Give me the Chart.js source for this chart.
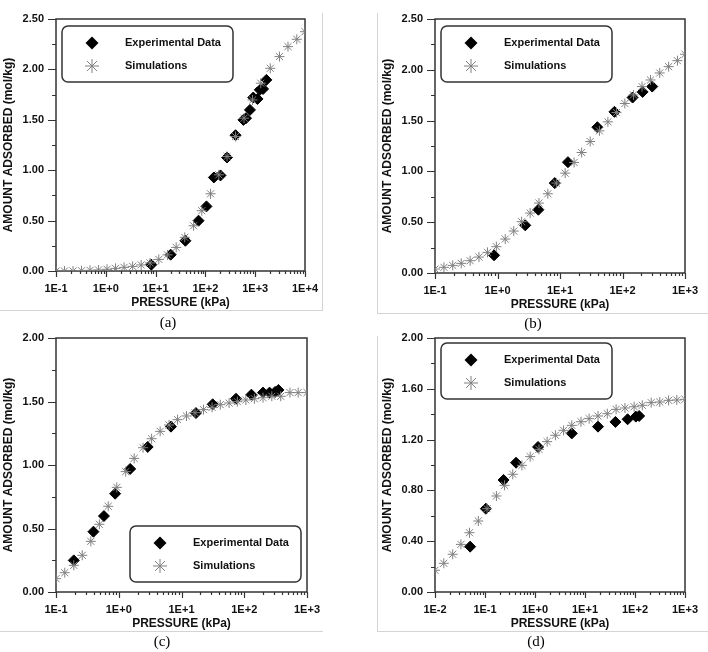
<!DOCTYPE html>
<html lang="en">
<head>
<meta charset="UTF-8">
<title>Adsorption isotherms</title>
<script src="https://cdnjs.cloudflare.com/ajax/libs/Chart.js/4.4.1/chart.umd.min.js"></script>
<style>
    body { margin: 0; background: #fff; }
    #page { position: relative; width: 708px; height: 652px; overflow: hidden; }
    #page canvas { position: absolute; }
    .cap { position: absolute; font-family: "Liberation Serif", "Times New Roman", serif; font-size: 15px; color: #000; transform: translate(-50%, -50%); }
    .rule { position: absolute; background: #d4d4d4; }
</style>
</head>
<body>
<div id="page">
    <canvas id="chartA" width="329" height="315" style="left:0;top:0"></canvas>
    <canvas id="chartB" width="330" height="317" style="left:379px;top:0"></canvas>
    <canvas id="chartC" width="331" height="317" style="left:0;top:319px"></canvas>
    <canvas id="chartD" width="330" height="317" style="left:379px;top:319px"></canvas>

    <div class="rule" style="left:322px;top:13px;width:1px;height:298px"></div>
    <div class="rule" style="left:0;top:310px;width:323px;height:1px"></div>
    <div class="rule" style="left:377px;top:13px;width:1px;height:300px"></div>
    <div class="rule" style="left:377px;top:313px;width:331px;height:1px"></div>
    <div class="rule" style="left:0;top:631px;width:323px;height:1px"></div>
    <div class="rule" style="left:377px;top:336px;width:1px;height:295px"></div>
    <div class="rule" style="left:377px;top:631px;width:331px;height:1px"></div>

    <div class="cap" style="left:168px;top:322px">(a)</div>
    <div class="cap" style="left:533px;top:323px">(b)</div>
    <div class="cap" style="left:162px;top:641px">(c)</div>
    <div class="cap" style="left:536px;top:641px">(d)</div>
</div>

<script>
    // (a)
    var simPressureA = [0.1, 0.148, 0.22, 0.326, 0.483, 0.716, 1.06, 1.57, 2.33, 3.46, 5.13, 7.73, 11.6, 17.3, 25.9, 38.5, 58.0, 84.6, 127, 186, 272, 403, 597, 885, 1294, 2009, 3069, 4550, 6850, 10000];
    var simAmountA = [0, 0, 0, 0.003, 0.007, 0.01, 0.017, 0.026, 0.036, 0.046, 0.06, 0.08, 0.115, 0.16, 0.234, 0.334, 0.449, 0.598, 0.766, 0.954, 1.136, 1.334, 1.516, 1.697, 1.863, 2.011, 2.127, 2.226, 2.299, 2.374];
    var expPressureA = [8.2, 20.1, 39.7, 72.8, 105, 148, 201, 272, 403, 579, 654, 785, 914, 1112, 1237, 1439, 1675];
    var expAmountA = [0.063, 0.162, 0.30, 0.499, 0.641, 0.928, 0.948, 1.126, 1.347, 1.499, 1.516, 1.598, 1.721, 1.707, 1.797, 1.806, 1.896];

    // (b)
    var simPressureB = [0.1, 0.139, 0.192, 0.263, 0.365, 0.505, 0.692, 0.959, 1.33, 1.82, 2.43, 3.33, 4.61, 6.39, 8.75, 12.1, 16.8, 22.2, 30.4, 42.7, 58.4, 80.0, 109, 150, 205, 281, 394, 547, 757, 1000];
    var simAmountB = [0.039, 0.056, 0.075, 0.095, 0.121, 0.157, 0.203, 0.259, 0.334, 0.413, 0.505, 0.59, 0.688, 0.78, 0.885, 0.983, 1.088, 1.186, 1.294, 1.399, 1.488, 1.579, 1.668, 1.753, 1.835, 1.90, 1.969, 2.031, 2.09, 2.153];
    var expPressureB = [0.881, 2.78, 4.51, 8.24, 13.4, 39.6, 74.3, 145, 210, 299];
    var expAmountB = [0.174, 0.469, 0.623, 0.885, 1.091, 1.435, 1.586, 1.727, 1.782, 1.835];

    // (c)
    var simPressureC = [0.1, 0.138, 0.192, 0.262, 0.359, 0.491, 0.679, 0.931, 1.29, 1.76, 2.44, 3.34, 4.57, 6.33, 8.65, 12.0, 16.4, 22.4, 30.7, 41.5, 57.4, 77.6, 106, 145, 199, 275, 381, 535, 723, 1000];
    var simAmountC = [0.105, 0.152, 0.21, 0.289, 0.399, 0.533, 0.675, 0.824, 0.948, 1.052, 1.136, 1.207, 1.265, 1.315, 1.357, 1.386, 1.412, 1.436, 1.454, 1.475, 1.488, 1.499, 1.512, 1.522, 1.530, 1.541, 1.541, 1.570, 1.570, 1.570];
    var expPressureC = [0.192, 0.395, 0.581, 0.875, 1.52, 2.89, 6.79, 17.0, 31.4, 73.9, 130, 199, 253, 310, 350];
    var expAmountC = [0.249, 0.475, 0.598, 0.774, 0.969, 1.142, 1.302, 1.409, 1.478, 1.522, 1.554, 1.570, 1.570, 1.575, 1.591];

    // (d)
    var simPressureD = [0.01, 0.015, 0.0226, 0.033, 0.0489, 0.0735, 0.110, 0.169, 0.246, 0.359, 0.548, 0.80, 1.2, 1.75, 2.56, 3.73, 5.44, 8.31, 12.1, 18.2, 27.9, 41.9, 63.0, 96.1, 140, 211, 313, 470, 686, 1000];
    var simAmountD = [0.171, 0.226, 0.297, 0.375, 0.467, 0.559, 0.656, 0.756, 0.84, 0.927, 0.997, 1.066, 1.123, 1.184, 1.234, 1.273, 1.312, 1.341, 1.365, 1.386, 1.404, 1.438, 1.449, 1.459, 1.47, 1.491, 1.496, 1.509, 1.512, 1.517];
    var expPressureD = [0.0504, 0.104, 0.235, 0.418, 1.15, 5.44, 18.2, 40.6, 71.1, 104, 121];
    var expAmountD = [0.357, 0.656, 0.882, 1.018, 1.142, 1.249, 1.302, 1.339, 1.36, 1.381, 1.386];

    // tick values / labels
    var xTicks4 = [0.1, 1, 10, 100, 1000, 10000];
    var xLabels4 = ['1E-1', '1E+0', '1E+1', '1E+2', '1E+3', '1E+4'];
    var xTicks3 = [0.1, 1, 10, 100, 1000];
    var xLabels3 = ['1E-1', '1E+0', '1E+1', '1E+2', '1E+3'];
    var xTicksD = [0.01, 0.1, 1, 10, 100, 1000];
    var xLabelsD = ['1E-2', '1E-1', '1E+0', '1E+1', '1E+2', '1E+3'];
    var yTicks25 = [0, 0.5, 1, 1.5, 2, 2.5];
    var yLabels25 = ['0.00', '0.50', '1.00', '1.50', '2.00', '2.50'];
    var yTicks20 = [0, 0.5, 1, 1.5, 2];
    var yLabels20 = ['0.00', '0.50', '1.00', '1.50', '2.00'];
    var yTicksD = [0, 0.4, 0.8, 1.2, 1.6, 2];
    var yLabelsD = ['0.00', '0.40', '0.80', '1.20', '1.60', '2.00'];

    var legendLabels = ['Experimental Data', 'Simulations'];

    var FONT = '"Liberation Sans", Arial, sans-serif';
    var INK = '#111';
    var STAR = '#808080';

    function pts(xs, ys) {
        return xs.map(function (x, i) { return {x: x, y: ys[i]}; });
    }

    function diamond(ctx, x, y, r) {
        ctx.beginPath();
        ctx.moveTo(x, y - r);
        ctx.lineTo(x + r, y);
        ctx.lineTo(x, y + r);
        ctx.lineTo(x - r, y);
        ctx.closePath();
        ctx.fill();
    }

    function star(ctx, x, y, r) {
        var d = r * Math.SQRT1_2;
        ctx.beginPath();
        ctx.moveTo(x - r, y); ctx.lineTo(x + r, y);
        ctx.moveTo(x, y - r); ctx.lineTo(x, y + r);
        ctx.moveTo(x - d, y - d); ctx.lineTo(x + d, y + d);
        ctx.moveTo(x - d, y + d); ctx.lineTo(x + d, y - d);
        ctx.stroke();
    }

    // box, tick marks and the inset legend
    var frameTicks = {
        id: 'frameTicks',
        beforeDatasetsDraw: function (chart, args, opts) {
            var ctx = chart.ctx, a = chart.chartArea, x = chart.scales.x, y = chart.scales.y;
            ctx.save();
            ctx.strokeStyle = '#333';
            ctx.lineWidth = 1.2;
            ctx.beginPath();
            var e0 = Math.round(Math.log10(x.min)), e1 = Math.round(Math.log10(x.max));
            for (var e = e0; e <= e1; e++) {
                for (var m = 1; m <= 9; m++) {
                    var v = m * Math.pow(10, e);
                    if (v > x.max * 1.001) continue;
                    var px = Math.round(x.getPixelForValue(v)) + 0.5;
                    var len = m === 1 ? 6 : 3;
                    ctx.moveTo(px, a.bottom);
                    ctx.lineTo(px, a.bottom + len);
                }
            }
            var step = opts.yStep / 2;
            for (var i = 0; i * step <= y.max + 1e-9; i++) {
                var py = Math.round(y.getPixelForValue(i * step)) + 0.5;
                var l = i % 2 === 0 ? 8 : 4;
                ctx.moveTo(a.left - l, py);
                ctx.lineTo(a.left, py);
            }
            ctx.stroke();
            ctx.lineWidth = 1.5;
            ctx.strokeRect(a.left, a.top, a.right - a.left, a.bottom - a.top);
            ctx.restore();
        },
        afterDatasetsDraw: function (chart, args, opts) {
            var ctx = chart.ctx, a = chart.chartArea;
            var bx = a.left + opts.legendX, by = a.top + opts.legendY, bw = 171, bh = 56;
            ctx.save();
            ctx.fillStyle = '#fff';
            ctx.strokeStyle = '#333';
            ctx.lineWidth = 1.5;
            ctx.beginPath();
            ctx.roundRect(bx, by, bw, bh, 6);
            ctx.fill();
            ctx.stroke();
            ctx.fillStyle = '#000';
            diamond(ctx, bx + 30, by + 17, 6.5);
            ctx.strokeStyle = STAR;
            ctx.lineWidth = 1;
            star(ctx, bx + 30, by + 40, 7);
            ctx.fillStyle = INK;
            ctx.font = 'bold 11px ' + FONT;
            ctx.textBaseline = 'middle';
            ctx.fillText(legendLabels[0], bx + 63, by + 17);
            ctx.fillText(legendLabels[1], bx + 63, by + 40);
            ctx.restore();
        }
    };

    function makeChart(id, cfg) {
        var tickFont = {family: FONT, size: 11, weight: 'bold'};
        var titleFont = {family: FONT, size: 12, weight: 'bold'};
        new Chart(document.getElementById(id), {
            type: 'scatter',
            data: {
                datasets: [{
                    label: legendLabels[1],
                    data: pts(cfg.simP, cfg.simQ),
                    pointStyle: 'star',
                    radius: 5,
                    borderColor: STAR,
                    backgroundColor: STAR,
                    borderWidth: 1,
                    order: 0
                }, {
                    label: legendLabels[0],
                    data: pts(cfg.expP, cfg.expQ),
                    pointStyle: 'rectRot',
                    radius: 5.5,
                    borderColor: '#000',
                    backgroundColor: '#000',
                    borderWidth: 1,
                    order: 1
                }]
            },
            options: {
                responsive: false,
                animation: false,
                devicePixelRatio: 1,
                layout: {padding: {left: 0, top: 19, right: 20, bottom: 0}},
                plugins: {
                    legend: {display: false},
                    tooltip: {enabled: false},
                    frameTicks: {yStep: cfg.yTicks[1], legendX: cfg.legendX, legendY: cfg.legendY}
                },
                scales: {
                    x: {
                        type: 'logarithmic',
                        min: cfg.xTicks[0],
                        max: cfg.xTicks[cfg.xTicks.length - 1],
                        afterBuildTicks: function (s) { s.ticks = cfg.xTicks.map(function (v) { return {value: v}; }); },
                        afterFit: function (s) { s.height = 44; },
                        grid: {display: false, drawTicks: false},
                        border: {display: false},
                        ticks: {
                            autoSkip: false, maxRotation: 0, padding: 11, color: INK, font: tickFont,
                            callback: function (v, i) { return cfg.xLabels[i]; }
                        },
                        title: {display: true, text: 'PRESSURE (kPa)', color: INK, font: titleFont, padding: {top: 0, bottom: 5}}
                    },
                    y: {
                        min: 0,
                        max: cfg.yTicks[cfg.yTicks.length - 1],
                        afterBuildTicks: function (s) { s.ticks = cfg.yTicks.map(function (v) { return {value: v}; }); },
                        afterFit: function (s) { s.width = 56; },
                        grid: {display: false, drawTicks: false},
                        border: {display: false},
                        ticks: {
                            padding: 12, color: INK, font: tickFont,
                            callback: function (v, i) { return cfg.yLabels[i]; }
                        },
                        title: {display: true, text: 'AMOUNT ADSORBED (mol/kg)', color: INK, font: titleFont, padding: {top: 1, bottom: 0}}
                    }
                }
            },
            plugins: [frameTicks]
        });
    }

    makeChart('chartA', {simP: simPressureA, simQ: simAmountA, expP: expPressureA, expQ: expAmountA,
        xTicks: xTicks4, xLabels: xLabels4, yTicks: yTicks25, yLabels: yLabels25, legendX: 6, legendY: 7});
    makeChart('chartB', {simP: simPressureB, simQ: simAmountB, expP: expPressureB, expQ: expAmountB,
        xTicks: xTicks3, xLabels: xLabels3, yTicks: yTicks25, yLabels: yLabels25, legendX: 6, legendY: 7});
    makeChart('chartC', {simP: simPressureC, simQ: simAmountC, expP: expPressureC, expQ: expAmountC,
        xTicks: xTicks3, xLabels: xLabels3, yTicks: yTicks20, yLabels: yLabels20, legendX: 74, legendY: 188});
    makeChart('chartD', {simP: simPressureD, simQ: simAmountD, expP: expPressureD, expQ: expAmountD,
        xTicks: xTicksD, xLabels: xLabelsD, yTicks: yTicksD, yLabels: yLabelsD, legendX: 6, legendY: 5});
</script>
</body>
</html>
